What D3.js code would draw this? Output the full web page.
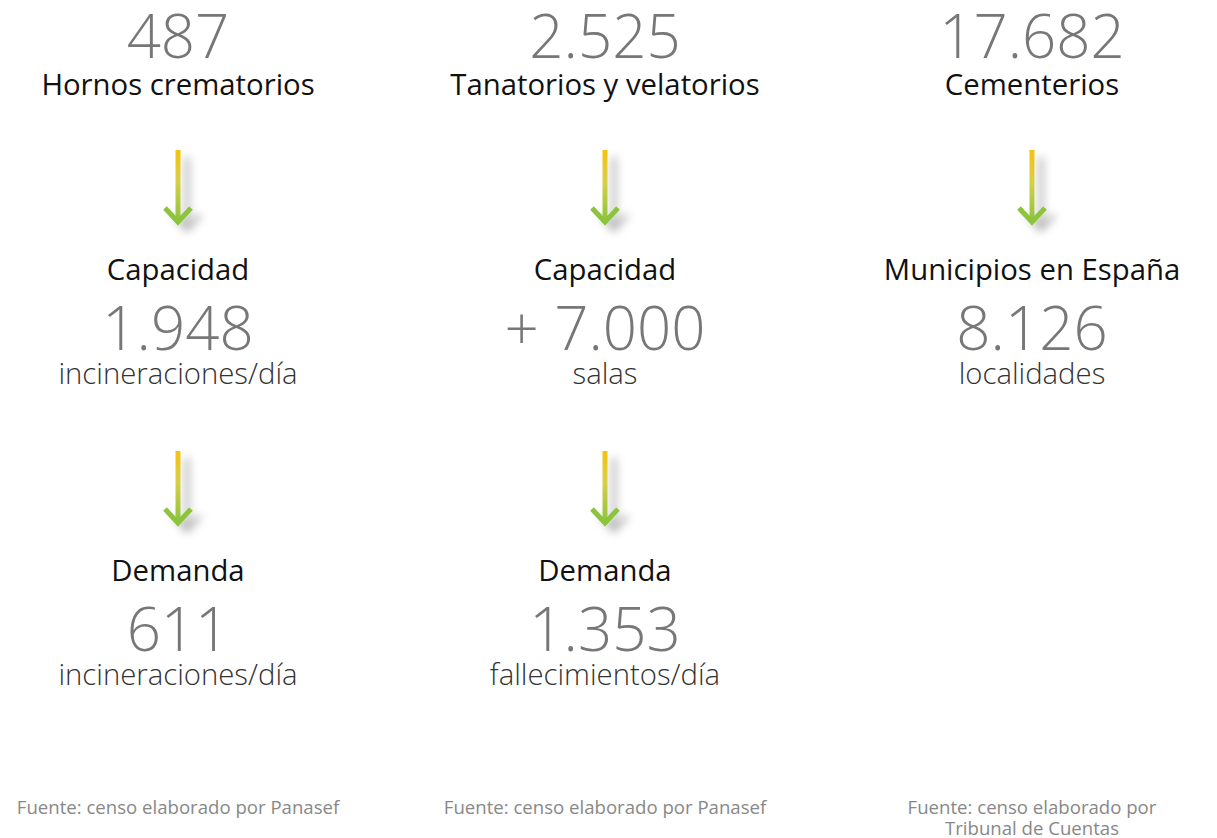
<!DOCTYPE html>
<html>
<head>
<meta charset="utf-8">
<script src="https://cdn.jsdelivr.net/npm/d3@7"></script>
<style>
    body { margin: 0; background: #fff; }
    text { font-family: "Open Sans", sans-serif; }
    .big { font-size: 60px; font-weight: 300; fill: #777; }
    .label { font-size: 29.3px; font-weight: 400; fill: #111; }
    .unit { font-size: 29.3px; font-weight: 300; fill: #333; }
    .source { font-size: 18.6px; font-weight: 400; fill: #888; }
</style>
</head>
<body>
<div id="chart"></div>
<script>
let canvasWidth = 1217;
let canvasHeight = 838;

// data, one entry per column
let columns = ["hornos", "tanatorios", "cementerios"];
let topValues = ["487", "2.525", "17.682"];
let topLabels = ["Hornos crematorios", "Tanatorios y velatorios", "Cementerios"];
let midLabels = ["Capacidad", "Capacidad", "Municipios en España"];
let midValues = ["1.948", "+ 7.000", "8.126"];
let midUnits = ["incineraciones/día", "salas", "localidades"];
let lowLabels = ["Demanda", "Demanda", null];
let lowValues = ["611", "1.353", null];
let lowUnits = ["incineraciones/día", "fallecimientos/día", null];
let sources = [
    ["Fuente: censo elaborado por Panasef"],
    ["Fuente: censo elaborado por Panasef"],
    ["Fuente: censo elaborado por", "Tribunal de Cuentas"]
];

let svg = d3.select("#chart")
    .append("svg")
    .attr("width", canvasWidth)
    .attr("height", canvasHeight);

let xScale = d3.scalePoint()
    .domain(columns)
    .range([178, 1032]);

// gradient + shadow for the arrows
let defs = svg.append("defs");
let grad = defs.append("linearGradient")
    .attr("id", "arrowGrad")
    .attr("x1", 0).attr("y1", 0)
    .attr("x2", 0).attr("y2", 1);
grad.append("stop").attr("offset", "0%").attr("stop-color", "#f7c10e");
grad.append("stop").attr("offset", "45%").attr("stop-color", "#d6cf4a");
grad.append("stop").attr("offset", "100%").attr("stop-color", "#8dc43c");

let shadow = defs.append("filter")
    .attr("id", "shadow")
    .attr("x", "-100%").attr("y", "-50%")
    .attr("width", "400%").attr("height", "200%");
shadow.append("feDropShadow")
    .attr("dx", 9)
    .attr("dy", 7)
    .attr("stdDeviation", 4)
    .attr("flood-color", "#000")
    .attr("flood-opacity", 0.28);

function addText(values, cls, y) {
    svg.append("g")
        .selectAll("text")
        .data(columns.map((c, i) => ({col: c, v: values[i]})).filter(d => d.v))
        .join("text")
        .attr("class", cls)
        .attr("x", d => xScale(d.col))
        .attr("y", y)
        .attr("text-anchor", "middle")
        .text(d => d.v);
}

function addArrows(cols, top, tip) {
    let g = svg.append("g")
        .selectAll("g")
        .data(cols)
        .join("g")
        .attr("filter", "url(#shadow)")
        .attr("transform", d => "translate(" + xScale(d) + ",0)");

    g.append("rect")
        .attr("x", -2.5)
        .attr("y", top)
        .attr("width", 5)
        .attr("height", tip - top - 3)
        .attr("fill", "url(#arrowGrad)");

    g.append("path")
        .attr("d", "M-13," + (tip - 16) + "L0," + (tip - 2) + "L13," + (tip - 16))
        .attr("fill", "none")
        .attr("stroke", "#8dc43c")
        .attr("stroke-width", 5);
}

// top block
addText(topValues, "big", 58);
addText(topLabels, "label", 95);

addArrows(columns, 150, 224);

// middle block
addText(midLabels, "label", 280);
addText(midValues, "big", 350);
addText(midUnits, "unit", 384);

addArrows(columns.filter((c, i) => lowValues[i]), 451, 525);

// lower block
addText(lowLabels, "label", 581);
addText(lowValues, "big", 651);
addText(lowUnits, "unit", 685);

// sources
svg.append("g")
    .selectAll("text")
    .data(columns)
    .join("text")
    .attr("class", "source")
    .attr("x", d => xScale(d))
    .attr("y", 814)
    .attr("text-anchor", "middle")
    .selectAll("tspan")
    .data((d, i) => sources[i])
    .join("tspan")
    .attr("x", function() { return xScale(d3.select(this.parentNode).datum()); })
    .attr("dy", (d, i) => i === 0 ? 0 : 21)
    .text(d => d);
</script>
</body>
</html>
